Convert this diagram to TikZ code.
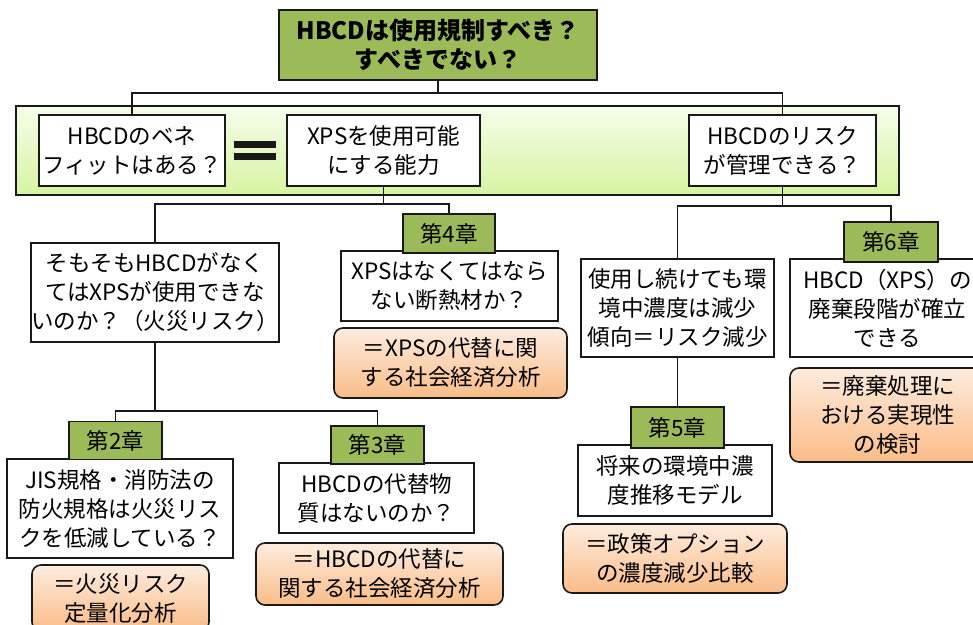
\documentclass[tikz,border=0pt]{standalone}
\usepackage{fontspec}
\setmainfont{Noto Sans CJK JP}
\definecolor{chapgreen}{RGB}{155,187,89}
\definecolor{bandtop}{RGB}{246,253,234}
\definecolor{bandbot}{RGB}{214,244,162}
\definecolor{ortop}{RGB}{253,236,222}
\definecolor{orbot}{RGB}{250,188,135}
\definecolor{edge}{RGB}{25,25,25}
\newcommand\jfs{\fontsize{22.5}{29}\selectfont}
\newcommand\tfs{\fontsize{24}{29}\selectfont}
\begin{document}
\begin{tikzpicture}[x=1pt,y=-1pt,
  wbox/.style={draw=edge, line width=1.6pt, fill=white, align=center, inner sep=0pt, font=\jfs},
  chap/.style={draw=edge, line width=1.6pt, fill=chapgreen, align=center, inner sep=0pt, font=\jfs},
  obox/.style={draw=edge, line width=1.6pt, rounded corners=9pt, top color=ortop, bottom color=orbot, align=center, inner sep=0pt, font=\jfs},
  conn/.style={draw=edge, line width=1.4pt}]
\useasboundingbox (0,0) rectangle (973,624);
% band
\node[draw=edge, line width=1.6pt, top color=bandtop, bottom color=bandbot, minimum width=883pt, minimum height=89pt, inner sep=0pt] (band) at (457.5,150.5) {};
% top
\node[chap, minimum width=318pt, minimum height=70pt, font=\tfs\bfseries] (top) at (438,45) {HBCDは使用規制すべき？\\すべきでない？};
% row 1
\node[wbox, minimum width=186pt, minimum height=71pt] (b1) at (132,150.5) {HBCDのベネ\\フィットはある？};
\node[wbox, minimum width=193pt, minimum height=71pt] (b2) at (383.5,150.5) {XPSを使用可能\\にする能力};
\node[wbox, minimum width=187pt, minimum height=71pt] (b3) at (782.5,150.5) {HBCDのリスク\\が管理できる？};
\fill[edge] (234,141) rectangle (276,148);
\fill[edge] (234,153) rectangle (276,160);
% left subtree
\node[wbox, minimum width=248pt, minimum height=99pt] (q1) at (155,292.5) {そもそもHBCDがなく\\てはXPSが使用できな\\いのか？（火災リスク）};
\node[wbox, minimum width=217pt, minimum height=70pt] (q4) at (449.5,286) {XPSはなくてはなら\\ない断熱材か？};
\node[chap, minimum width=92pt, minimum height=39pt] (c4) at (449,233.5) {第4章};
\node[obox, minimum width=233pt, minimum height=70pt] (o4) at (450.5,363) {＝XPSの代替に関\\する社会経済分析};
\node[wbox, minimum width=226pt, minimum height=99pt] (q2) at (120,508.5) {JIS規格・消防法の\\防火規格は火災リス\\クを低減している？};
\node[chap, minimum width=93pt, minimum height=38pt] (c2) at (115.5,440.5) {第2章};
\node[obox, minimum width=177pt, minimum height=66pt] (o2) at (120.5,598) {＝火災リスク\\定量化分析};
\node[wbox, minimum width=195pt, minimum height=70pt] (q3) at (376.5,498) {HBCDの代替物\\質はないのか？};
\node[chap, minimum width=93pt, minimum height=38pt] (c3) at (377.5,445) {第3章};
\node[obox, minimum width=247pt, minimum height=62pt] (o3) at (379.5,574) {＝HBCDの代替に\\関する社会経済分析};
% right subtree
\node[wbox, minimum width=193pt, minimum height=98pt] (q5a) at (677.5,308) {使用し続けても環\\境中濃度は減少\\傾向＝リスク減少};
\node[wbox, minimum width=194pt, minimum height=71pt] (q5) at (675,480.5) {将来の環境中濃\\度推移モデル};
\node[chap, minimum width=93pt, minimum height=41pt] (c5) at (677.5,427.5) {第5章};
\node[obox, minimum width=224pt, minimum height=69pt] (o5) at (675,558.5) {＝政策オプション\\の濃度減少比較};
\node[wbox, minimum width=195pt, minimum height=98pt] (q6) at (887.5,308) {HBCD（XPS）の\\廃棄段階が確立\\できる};
\node[chap, minimum width=94pt, minimum height=40pt] (c6) at (891,242) {第6章};
\node[obox, minimum width=195pt, minimum height=94pt] (o6) at (887.5,415) {＝廃棄処理に\\おける実現性\\の検討};
% connectors
\coordinate (j0) at (438,93);
\coordinate (j1) at (383.5,204);
\coordinate (j2) at (155,411);
\coordinate (j3) at (782.5,206);
\draw[conn] (top.south) -- (j0) -| (b1.north);
\draw[conn] (j0) -| (b3.north);
\draw[conn] (b2.south) -- (j1) -| (q1.north);
\draw[conn] (j1) -| (c4.north);
\draw[conn] (q1.south) -- (j2) -| (c2.north);
\draw[conn] (j2) -| (c3.north);
\draw[conn] (b3.south) -- (j3) -| (q5a.north);
\draw[conn] (j3) -| (c6.north);
\draw[conn] (q5a.south) -- (c5.north);
\end{tikzpicture}
\end{document}
